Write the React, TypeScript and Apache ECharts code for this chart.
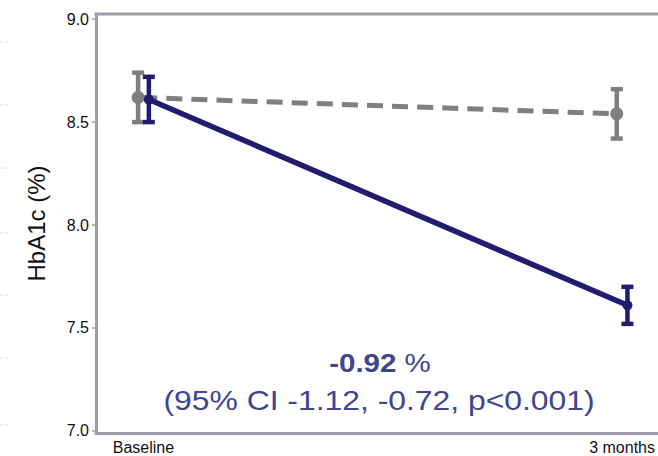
import React, { useEffect, useRef } from "react";
import * as echarts from "echarts";

const categories = ["Baseline", "3 months"];
const controlMean = [8.62, 8.54];
const controlLow = [8.5, 8.42];
const controlHigh = [8.74, 8.66];
const interventionMean = [8.61, 7.61];
const interventionLow = [8.5, 7.52];
const interventionHigh = [8.72, 7.7];
const yTicks = [7.0, 7.5, 8.0, 8.5, 9.0];
const diffValue = "-0.92";
const diffDetail = "(95% CI -1.12, -0.72, p<0.001)";

const GRAY = "#7f7f7f";
const NAVY = "#201d70";
const AXIS = "#9aa0a6";
const NOTE = "#40458f";
const FONT = "'Liberation Sans', Arial, sans-serif";
const OFFSET = 0.0112;

function errBar(color: string) {
  return (params: any, api: any) => {
    const x = api.value(0);
    const lo = api.value(1);
    const hi = api.value(2);
    const pLo = api.coord([x, lo]);
    const pHi = api.coord([x, hi]);
    const capW = 12;
    const capH = 4.5;
    const stemW = 4.5;
    return {
      type: "group",
      children: [
        { type: "rect", shape: { x: pHi[0] - stemW / 2, y: pHi[1], width: stemW, height: pLo[1] - pHi[1] }, style: { fill: color } },
        { type: "rect", shape: { x: pHi[0] - capW / 2, y: pHi[1] - capH / 2, width: capW, height: capH }, style: { fill: color } },
        { type: "rect", shape: { x: pLo[0] - capW / 2, y: pLo[1] - capH / 2, width: capW, height: capH }, style: { fill: color } },
      ],
    };
  };
}

export default function App() {
  const ref = useRef<HTMLDivElement>(null);
  useEffect(() => {
    if (!ref.current) return;
    const chart = echarts.init(ref.current, undefined, { renderer: "svg" });
    const ctrlPts = controlMean.map((v, i) => [i - OFFSET, v]);
    const intPts = interventionMean.map((v, i) => [i + OFFSET, v]);
    const ctrlErr = controlMean.map((_, i) => [i - OFFSET, controlLow[i], controlHigh[i]]);
    const intErr = interventionMean.map((_, i) => [i + OFFSET, interventionLow[i], interventionHigh[i]]);
    const leftDashes = [42, 105, 168, 233, 295, 358, 425];
    chart.setOption({
      animation: false,
      backgroundColor: "#ffffff",
      textStyle: { fontFamily: FONT },
      grid: { left: 96, right: 0, top: 14, bottom: 23, containLabel: false },
      xAxis: {
        type: "value",
        min: -0.0992,
        max: 1.074,
        axisLine: { show: true, onZero: false, lineStyle: { color: AXIS, width: 3 } },
        axisTick: { show: false },
        splitLine: { show: false },
        axisLabel: {
          customValues: [0, 1],
          formatter: (v: number) => categories[Math.round(v)] ?? "",
          color: "#111",
          fontSize: 16,
          fontFamily: FONT,
          margin: 6,
        },
      },
      yAxis: {
        type: "value",
        min: 6.99,
        max: 9.025,
        axisLine: { show: true, onZero: false, lineStyle: { color: AXIS, width: 3 } },
        axisTick: { show: true, customValues: yTicks, length: 4, lineStyle: { color: AXIS, width: 1.5 } },
        splitLine: { show: false },
        axisLabel: {
          customValues: yTicks,
          formatter: (v: number) => v.toFixed(1),
          color: "#111",
          fontSize: 16,
          fontFamily: FONT,
          margin: 7,
        },
        name: "HbA1c (%)",
        nameLocation: "middle",
        nameRotate: 90,
        nameGap: 48,
        nameTextStyle: { fontSize: 24, color: "#111", fontFamily: FONT },
      },
      graphic: [
        { type: "line", shape: { x1: 94.5, y1: 14, x2: 660, y2: 14 }, style: { stroke: AXIS, lineWidth: 3 }, silent: true },
        ...leftDashes.map((y) => ({
          type: "line",
          shape: { x1: 0, y1: y, x2: 9, y2: y },
          style: { stroke: "#dcdff2", lineWidth: 1, lineDash: [3, 2] },
          silent: true,
        })),
        {
          type: "text",
          x: 380,
          y: 363,
          scaleX: 1.18,
          style: {
            text: `{b|${diffValue}} {r|%}`,
            textAlign: "center",
            textVerticalAlign: "middle",
            fill: NOTE,
            rich: {
              b: { fontSize: 25, fontWeight: "bold", fill: NOTE, fontFamily: FONT },
              r: { fontSize: 25, fill: NOTE, fontFamily: FONT },
            },
            font: `25px ${FONT}`,
          },
        },
        {
          type: "text",
          x: 379,
          y: 400,
          scaleX: 1.18,
          style: {
            text: diffDetail,
            textAlign: "center",
            textVerticalAlign: "middle",
            fill: NOTE,
            font: `27px ${FONT}`,
          },
        },
      ],
      series: [
        {
          type: "custom",
          renderItem: errBar(GRAY),
          data: ctrlErr,
          encode: { x: 0, y: [1, 2] },
          z: 2,
        },
        {
          type: "line",
          data: ctrlPts,
          symbol: "circle",
          symbolSize: 13,
          itemStyle: { color: GRAY },
          lineStyle: { color: GRAY, width: 5, type: [16, 9.1], dashOffset: 22 },
          z: 3,
        },
        {
          type: "custom",
          renderItem: errBar(NAVY),
          data: intErr,
          encode: { x: 0, y: [1, 2] },
          z: 4,
        },
        {
          type: "line",
          data: intPts,
          symbol: "circle",
          symbolSize: 10,
          itemStyle: { color: NAVY },
          lineStyle: { color: NAVY, width: 5.5 },
          z: 5,
        },
      ],
    });
    return () => chart.dispose();
  }, []);
  return <div ref={ref} style={{ position: "fixed", left: 0, top: 0, width: 658, height: 456 }} />;
}
